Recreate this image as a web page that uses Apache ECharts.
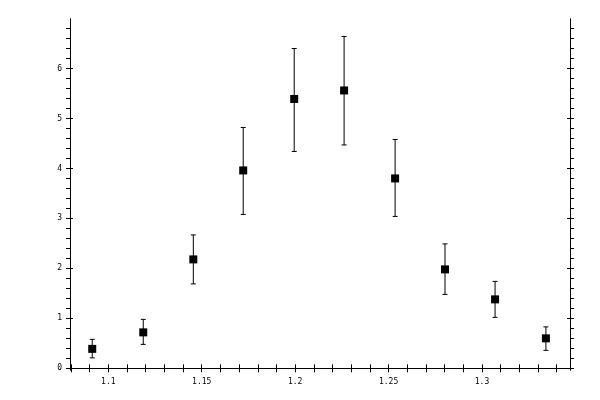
<!DOCTYPE html>
<html lang="en">
<head>
<meta charset="UTF-8">
<title>Error bar scatter</title>
<script src="https://cdn.jsdelivr.net/npm/echarts@6.0.0/dist/echarts.min.js"></script>
<style>html,body{margin:0;padding:0;background:#fff;}</style>
</head>
<body>
<div id="main" style="width:600px;height:400px;"></div>
<script>
// measured points: x position, value, lower and upper end of the error bar
const xValues = [1.0914, 1.1187, 1.1455, 1.1722, 1.1995, 1.2262, 1.2535, 1.2802, 1.3070, 1.3342];
const yValues = [0.39, 0.72, 2.18, 3.96, 5.39, 5.56, 3.80, 1.98, 1.38, 0.60];
const errLow = [0.21, 0.48, 1.69, 3.08, 4.34, 4.47, 3.04, 1.48, 1.02, 0.36];
const errHigh = [0.58, 0.98, 2.67, 4.82, 6.40, 6.64, 4.58, 2.49, 1.74, 0.83];

// tick positions
const xMajor = [1.1, 1.15, 1.2, 1.25, 1.3];
const xMinor = [1.08, 1.09, 1.11, 1.12, 1.13, 1.14, 1.16, 1.17, 1.18, 1.19, 1.21, 1.22,
  1.23, 1.24, 1.26, 1.27, 1.28, 1.29, 1.31, 1.32, 1.33, 1.34];
const yMajor = [0, 1, 2, 3, 4, 5, 6];
const yMinor = [0.2, 0.4, 0.6, 0.8, 1.2, 1.4, 1.6, 1.8, 2.2, 2.4, 2.6, 2.8, 3.2, 3.4, 3.6, 3.8,
  4.2, 4.4, 4.6, 4.8, 5.2, 5.4, 5.6, 5.8, 6.2, 6.4, 6.6, 6.8];

const chart = echarts.init(document.getElementById('main'));

const labelFont = { color: '#000', fontFamily: 'DejaVu Sans Mono', fontSize: 8 };
const line = { show: true, lineStyle: { color: '#000', width: 1 } };

// each side gets two axes: one with ticks pointing out, one with major ticks pointing in
function xAx(pos, inside, labels) {
  return {
    type: 'value', position: pos, min: 1.0795, max: 1.3471,
    axisLine: line,
    splitLine: { show: false },
    axisTick: {
      show: true, inside: inside, length: inside ? 3 : 4,
      customValues: inside ? xMajor : xMajor.concat(xMinor),
      lineStyle: { color: '#000', width: 1 }
    },
    axisLabel: labels ? Object.assign({ show: true, margin: 8, customValues: xMajor }, labelFont) : { show: false }
  };
}
function yAx(pos, inside, labels) {
  return {
    type: 'value', position: pos, min: -0.033, max: 6.99,
    axisLine: line,
    splitLine: { show: false },
    axisTick: {
      show: true, inside: inside, length: inside ? 3 : 4,
      customValues: inside ? yMajor : yMajor.concat(yMinor),
      lineStyle: { color: '#000', width: 1 }
    },
    axisLabel: labels ? Object.assign({ show: true, margin: 8, customValues: yMajor }, labelFont) : { show: false }
  };
}

const points = xValues.map((x, i) => [x, yValues[i]]);
const bars = xValues.map((x, i) => [x, errLow[i], errHigh[i]]);

chart.setOption({
  animation: false,
  grid: { left: 70, right: 30, top: 19, bottom: 30 },
  xAxis: [xAx('bottom', false, true), xAx('bottom', true, false), xAx('top', false, false), xAx('top', true, false)],
  yAxis: [yAx('left', false, true), yAx('left', true, false), yAx('right', false, false), yAx('right', true, false)],
  series: [
    {
      type: 'custom',
      data: bars,
      encode: { x: 0, y: [1, 2] },
      renderItem: function (params, api) {
        const x = api.value(0);
        const lo = api.coord([x, api.value(1)]);
        const hi = api.coord([x, api.value(2)]);
        const w = 2.5;
        const st = { stroke: '#000', lineWidth: 1 };
        return {
          type: 'group',
          children: [
            { type: 'line', shape: { x1: lo[0], y1: lo[1], x2: hi[0], y2: hi[1] }, style: st },
            { type: 'line', shape: { x1: lo[0] - w, y1: lo[1], x2: lo[0] + w, y2: lo[1] }, style: st },
            { type: 'line', shape: { x1: hi[0] - w, y1: hi[1], x2: hi[0] + w, y2: hi[1] }, style: st }
          ]
        };
      }
    },
    {
      type: 'scatter',
      data: points,
      symbol: 'rect',
      symbolSize: 8,
      itemStyle: { color: '#000', opacity: 1 },
      z: 3
    }
  ]
});
</script>
</body>
</html>
